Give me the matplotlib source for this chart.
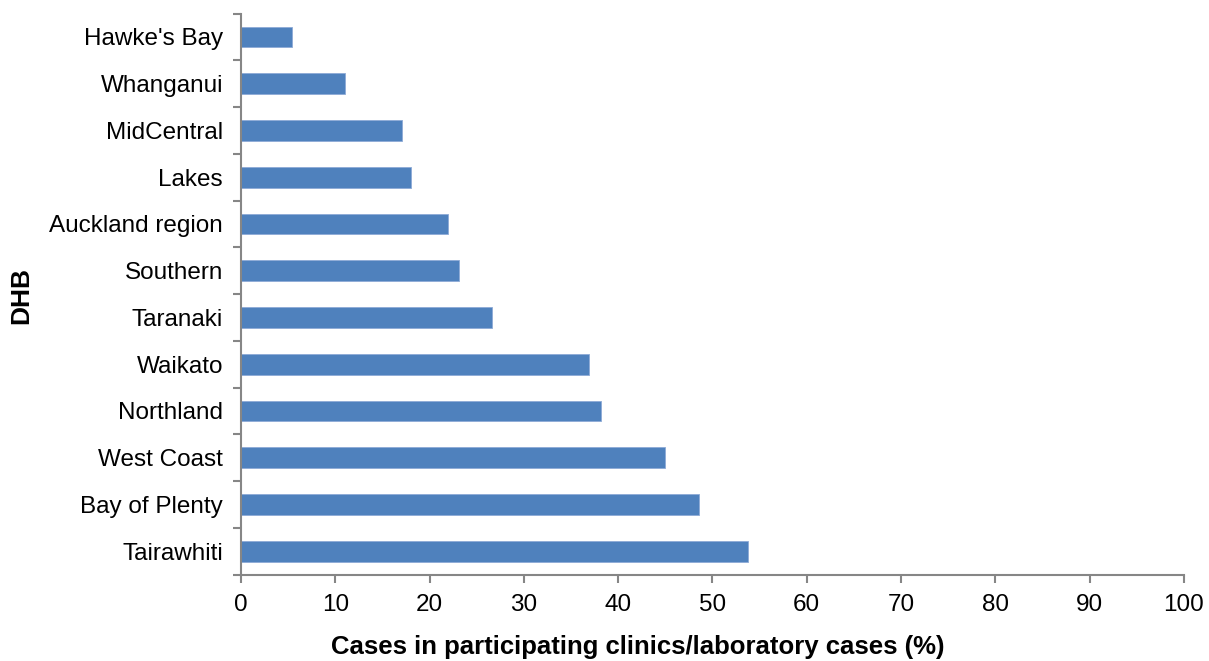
import matplotlib.pyplot as plt
import numpy as np

plt.rcParams['font.family'] = ['Liberation Sans', 'DejaVu Sans']

## Data (top to bottom as shown)
dhb = ["Hawke's Bay", "Whanganui", "MidCentral", "Lakes", "Auckland region",
       "Southern", "Taranaki", "Waikato", "Northland", "West Coast",
       "Bay of Plenty", "Tairawhiti"]
pct = [5.4, 11.0, 17.1, 18.0, 22.0, 23.1, 26.6, 36.9, 38.2, 45.0, 48.6, 53.8]

fig = plt.figure(figsize=(12.09, 6.61), dpi=100)
ax = fig.add_axes([0.1993, 0.1307, 0.78, 0.8487])

y = np.arange(len(dhb))[::-1]
ax.barh(y, pct, height=0.44, color='#4F81BD', edgecolor='#8DAAD6', linewidth=0.6)

ax.set_xlim(0, 100)
ax.set_ylim(-0.5, len(dhb) - 0.5)
ax.set_xticks(np.arange(0, 101, 10))
ax.set_yticks(y)
ax.set_yticklabels(dhb)
ax.set_yticks(np.arange(-0.5, len(dhb), 1.0), minor=True)

for s in ['top', 'right']:
    ax.spines[s].set_visible(False)
for s in ['left', 'bottom']:
    ax.spines[s].set_color('#868686')
    ax.spines[s].set_linewidth(1.5)

ax.tick_params(axis='y', which='major', length=0, pad=13, labelsize=17.5)
ax.tick_params(axis='y', which='minor', length=6, width=1.5, color='#868686', direction='out')
ax.tick_params(axis='x', length=6, width=1.5, color='#868686', direction='out', pad=8, labelsize=17.5)

# axis titles placed in figure pixels, as in the reference
fig.text(638 / 1209, 1 - 647 / 661, 'Cases in participating clinics/laboratory cases (%)',
         fontsize=18.5, fontweight='bold', ha='center', va='center')
fig.text(21 / 1209, 1 - 296 / 661, 'DHB', fontsize=19, fontweight='bold',
         rotation=90, ha='center', va='center')

fig.savefig('out.png', dpi=100)
